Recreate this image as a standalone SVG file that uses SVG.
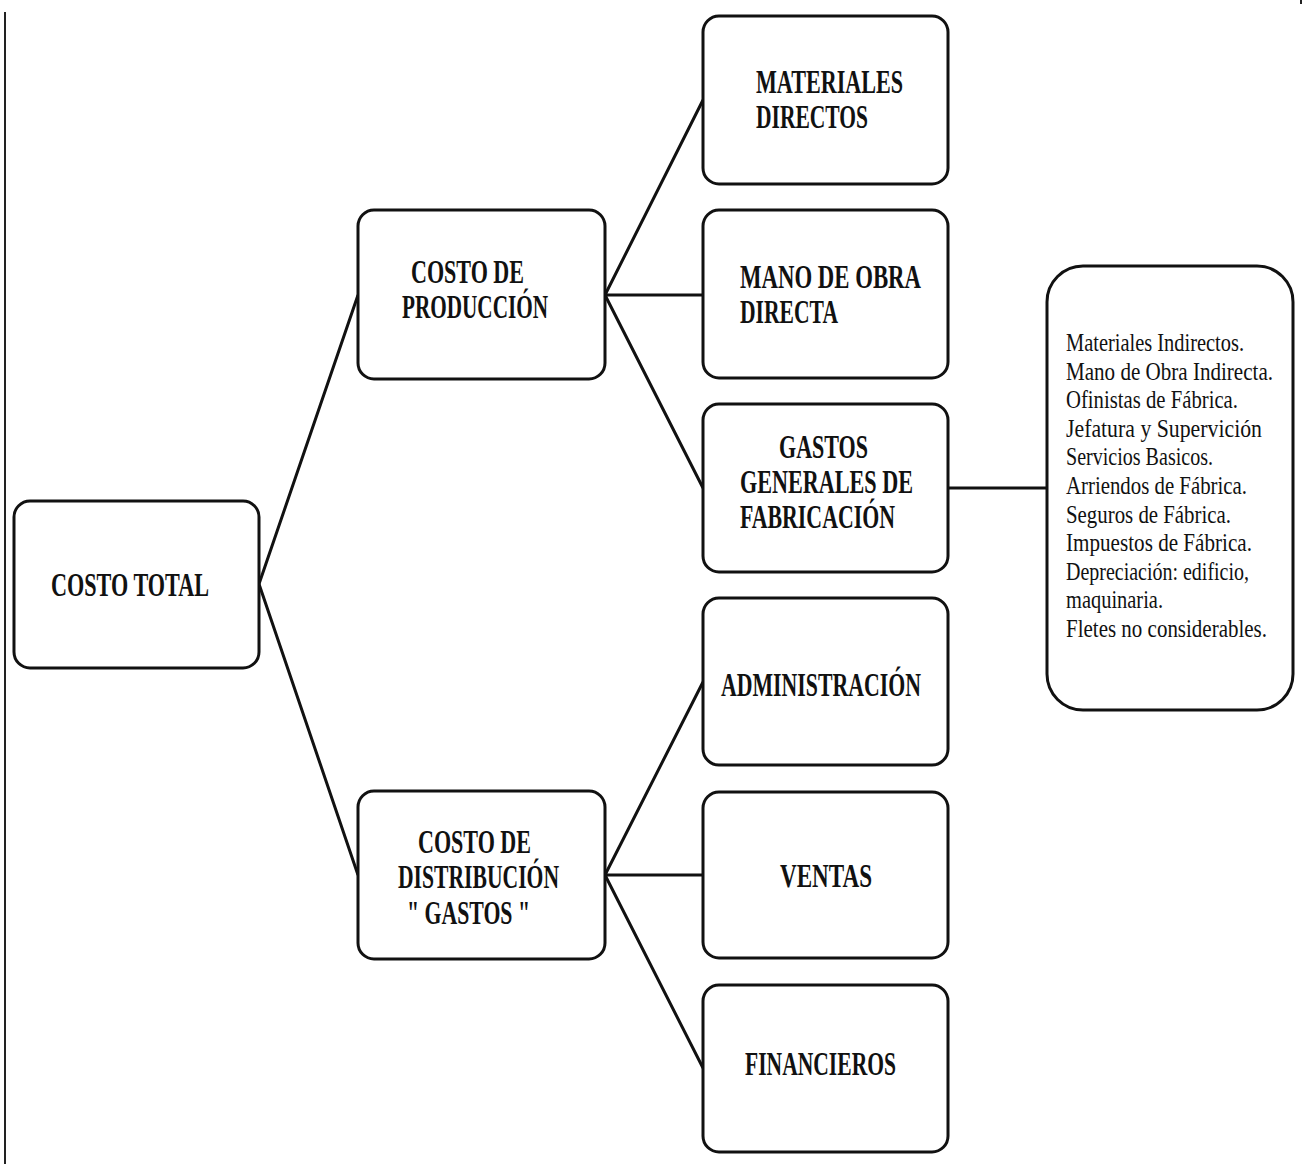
<svg xmlns="http://www.w3.org/2000/svg" width="1303" height="1164" viewBox="0 0 1303 1164">
  <style>
    .box { fill: #fff; stroke: #111; stroke-width: 3; }
    .lbl { font-family: "Liberation Serif", "DejaVu Serif", serif; font-size: 33px; font-weight: bold; fill: #111; }
    .note { font-family: "Liberation Serif", "DejaVu Serif", serif; font-size: 25px; fill: #111; }
    .link { stroke: #111; stroke-width: 3; fill: none; }
  </style>
  <rect width="1303" height="1164" fill="#fff"/>
  <!-- page margin rule -->
  <line x1="5" y1="12" x2="5" y2="1164" stroke="#222" stroke-width="2"/>
  <rect x="1300" y="0" width="2" height="4" fill="#222"/>

  <g id="connectors">
    <path class="link" d="M259,584 L358,295 M259,584 L358,875"/>
    <path class="link" d="M605,295 L703,100 M605,295 L703,295 M605,295 L703,488"/>
    <path class="link" d="M605,875 L703,682 M605,875 L703,875 M605,875 L703,1068"/>
    <path class="link" d="M948,488 L1047,488"/>
  </g>

  <g id="costo-total">
    <rect class="box" x="14" y="501" width="245" height="167" rx="16"/>
    <text class="lbl" x="51" y="596" textLength="158" lengthAdjust="spacingAndGlyphs">COSTO TOTAL</text>
  </g>

  <g id="costo-produccion">
    <rect class="box" x="358" y="210" width="247" height="169" rx="16"/>
    <text class="lbl" x="411" y="283" textLength="113" lengthAdjust="spacingAndGlyphs">COSTO DE</text>
    <text class="lbl" x="402" y="318" textLength="146" lengthAdjust="spacingAndGlyphs">PRODUCCIÓN</text>
  </g>

  <g id="costo-distribucion">
    <rect class="box" x="358" y="791" width="247" height="168" rx="16"/>
    <text class="lbl" x="418" y="853" textLength="113" lengthAdjust="spacingAndGlyphs">COSTO DE</text>
    <text class="lbl" x="398" y="888" textLength="161" lengthAdjust="spacingAndGlyphs">DISTRIBUCIÓN</text>
    <text class="lbl" x="407" y="924" textLength="123" lengthAdjust="spacingAndGlyphs">" GASTOS "</text>
  </g>

  <g id="materiales-directos">
    <rect class="box" x="703" y="16" width="245" height="168" rx="16"/>
    <text class="lbl" x="756" y="93" textLength="147" lengthAdjust="spacingAndGlyphs">MATERIALES</text>
    <text class="lbl" x="756" y="128" textLength="112" lengthAdjust="spacingAndGlyphs">DIRECTOS</text>
  </g>

  <g id="mano-obra-directa">
    <rect class="box" x="703" y="210" width="245" height="168" rx="16"/>
    <text class="lbl" x="740" y="288" textLength="181" lengthAdjust="spacingAndGlyphs">MANO DE OBRA</text>
    <text class="lbl" x="740" y="323" textLength="98" lengthAdjust="spacingAndGlyphs">DIRECTA</text>
  </g>

  <g id="gastos-generales">
    <rect class="box" x="703" y="404" width="245" height="168" rx="16"/>
    <text class="lbl" x="779" y="458" textLength="89" lengthAdjust="spacingAndGlyphs">GASTOS</text>
    <text class="lbl" x="740" y="493" textLength="173" lengthAdjust="spacingAndGlyphs">GENERALES DE</text>
    <text class="lbl" x="740" y="528" textLength="155" lengthAdjust="spacingAndGlyphs">FABRICACIÓN</text>
  </g>

  <g id="administracion">
    <rect class="box" x="703" y="598" width="245" height="167" rx="16"/>
    <text class="lbl" x="721" y="696" textLength="200" lengthAdjust="spacingAndGlyphs">ADMINISTRACIÓN</text>
  </g>

  <g id="ventas">
    <rect class="box" x="703" y="792" width="245" height="166" rx="16"/>
    <text class="lbl" x="780" y="887" textLength="92" lengthAdjust="spacingAndGlyphs">VENTAS</text>
  </g>

  <g id="financieros">
    <rect class="box" x="703" y="985" width="245" height="167" rx="16"/>
    <text class="lbl" x="745" y="1075" textLength="151" lengthAdjust="spacingAndGlyphs">FINANCIEROS</text>
  </g>

  <g id="detalle-gastos">
    <rect class="box" x="1047" y="266" width="246" height="444" rx="36"/>
    <text class="note" x="1066" y="351" textLength="178" lengthAdjust="spacingAndGlyphs">Materiales Indirectos.</text>
    <text class="note" x="1066" y="380" textLength="207" lengthAdjust="spacingAndGlyphs">Mano de Obra Indirecta.</text>
    <text class="note" x="1066" y="408" textLength="172" lengthAdjust="spacingAndGlyphs">Ofinistas de Fábrica.</text>
    <text class="note" x="1066" y="437" textLength="196" lengthAdjust="spacingAndGlyphs">Jefatura y Supervición</text>
    <text class="note" x="1066" y="465" textLength="147" lengthAdjust="spacingAndGlyphs">Servicios Basicos.</text>
    <text class="note" x="1066" y="494" textLength="181" lengthAdjust="spacingAndGlyphs">Arriendos de Fábrica.</text>
    <text class="note" x="1066" y="523" textLength="165" lengthAdjust="spacingAndGlyphs">Seguros de Fábrica.</text>
    <text class="note" x="1066" y="551" textLength="186" lengthAdjust="spacingAndGlyphs">Impuestos de Fábrica.</text>
    <text class="note" x="1066" y="580" textLength="183" lengthAdjust="spacingAndGlyphs">Depreciación: edificio,</text>
    <text class="note" x="1066" y="608" textLength="97" lengthAdjust="spacingAndGlyphs">maquinaria.</text>
    <text class="note" x="1066" y="637" textLength="201" lengthAdjust="spacingAndGlyphs">Fletes no considerables.</text>
  </g>
</svg>
